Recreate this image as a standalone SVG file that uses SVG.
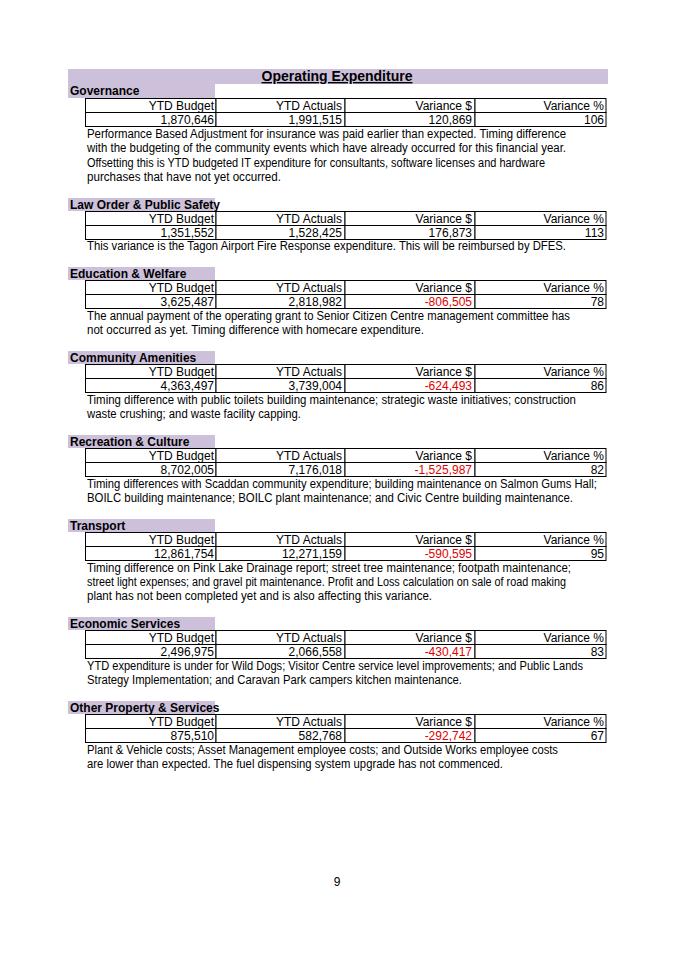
<svg xmlns="http://www.w3.org/2000/svg" width="675" height="954" viewBox="0 0 675 954">
<style>
text{font-family:"Liberation Sans",Arial,sans-serif;font-size:12px;fill:#000}
.lbl{font-weight:bold}
.r{text-anchor:end}
.neg{fill:#e00000}
.band{fill:#ccc0da}
.cell{fill:#fff;stroke:#000;stroke-width:1}
</style>
<rect width="675" height="954" fill="#fff"/>
<rect class="band" x="68" y="69" width="540" height="15"/>
<text x="337" y="81" text-anchor="middle" style="font-weight:bold;font-size:14px;text-decoration:underline">Operating Expenditure</text>
<defs>
<g id="tbl">
<rect class="cell" x="85.5" y="0.5" width="130.5" height="14"/>
<rect class="cell" x="216" y="0.5" width="129" height="14"/>
<rect class="cell" x="345" y="0.5" width="130" height="14"/>
<rect class="cell" x="475" y="0.5" width="131" height="14"/>
<rect class="cell" x="85.5" y="14.5" width="130.5" height="14"/>
<rect class="cell" x="216" y="14.5" width="129" height="14"/>
<rect class="cell" x="345" y="14.5" width="130" height="14"/>
<rect class="cell" x="475" y="14.5" width="131" height="14"/>
<text class="r" x="214" y="12">YTD Budget</text>
<text class="r" x="342" y="12">YTD Actuals</text>
<text class="r" x="472" y="12">Variance $</text>
<text class="r" x="604" y="12">Variance %</text>
</g>
</defs>
<g id="governance">
<rect class="band" x="68" y="84" width="147" height="14"/><text class="lbl" x="70" y="95">Governance</text>
<g transform="translate(0,98)"><use href="#tbl"/><text class="r" x="214" y="26">1,870,646</text><text class="r" x="342" y="26">1,991,515</text><text class="r" x="472" y="26">120,869</text><text class="r" x="604" y="26">106</text></g>
<text x="87" y="138" textLength="479" lengthAdjust="spacingAndGlyphs">Performance Based Adjustment for insurance was paid earlier than expected.  Timing difference</text>
<text x="87" y="152" textLength="479" lengthAdjust="spacingAndGlyphs">with the budgeting of the community events which have already occurred for this financial year.</text>
<text x="87" y="167" textLength="458" lengthAdjust="spacingAndGlyphs">Offsetting this is YTD budgeted IT expenditure for consultants, software licenses and hardware</text>
<text x="87" y="181" textLength="194" lengthAdjust="spacingAndGlyphs">purchases that have not yet occurred.</text>
</g>
<g id="law">
<rect class="band" x="68" y="198" width="147" height="13"/><text class="lbl" x="70" y="209">Law Order &amp; Public Safety</text>
<g transform="translate(0,211)"><use href="#tbl"/><text class="r" x="214" y="26">1,351,552</text><text class="r" x="342" y="26">1,528,425</text><text class="r" x="472" y="26">176,873</text><text class="r" x="604" y="26">113</text></g>
<text x="87" y="250" textLength="479" lengthAdjust="spacingAndGlyphs">This variance is the Tagon Airport Fire Response expenditure.  This will be reimbursed by DFES.</text>
</g>
<g id="education">
<rect class="band" x="68" y="267" width="147" height="13"/><text class="lbl" x="70" y="278">Education &amp; Welfare</text>
<g transform="translate(0,280)"><use href="#tbl"/><text class="r" x="214" y="26">3,625,487</text><text class="r" x="342" y="26">2,818,982</text><text class="r neg" x="472" y="26">-806,505</text><text class="r" x="604" y="26">78</text></g>
<text x="87" y="320" textLength="483" lengthAdjust="spacingAndGlyphs">The annual payment of the operating grant to Senior Citizen Centre management committee has</text>
<text x="87" y="334" textLength="337" lengthAdjust="spacingAndGlyphs">not occurred as yet.  Timing difference with homecare expenditure.</text>
</g>
<g id="community">
<rect class="band" x="68" y="351" width="147" height="13"/><text class="lbl" x="70" y="362">Community Amenities</text>
<g transform="translate(0,364)"><use href="#tbl"/><text class="r" x="214" y="26">4,363,497</text><text class="r" x="342" y="26">3,739,004</text><text class="r neg" x="472" y="26">-624,493</text><text class="r" x="604" y="26">86</text></g>
<text x="87" y="404" textLength="489" lengthAdjust="spacingAndGlyphs">Timing difference with public toilets building maintenance; strategic waste initiatives; construction</text>
<text x="87" y="418" textLength="214" lengthAdjust="spacingAndGlyphs">waste crushing; and waste facility capping.</text>
</g>
<g id="recreation">
<rect class="band" x="68" y="435" width="147" height="13"/><text class="lbl" x="70" y="446">Recreation &amp; Culture</text>
<g transform="translate(0,448)"><use href="#tbl"/><text class="r" x="214" y="26">8,702,005</text><text class="r" x="342" y="26">7,176,018</text><text class="r neg" x="472" y="26">-1,525,987</text><text class="r" x="604" y="26">82</text></g>
<text x="87" y="488" textLength="510" lengthAdjust="spacingAndGlyphs">Timing differences with Scaddan community expenditure; building maintenance on Salmon Gums Hall;</text>
<text x="87" y="502" textLength="486" lengthAdjust="spacingAndGlyphs">BOILC building maintenance; BOILC plant maintenance; and Civic Centre building maintenance.</text>
</g>
<g id="transport">
<rect class="band" x="68" y="519" width="147" height="13"/><text class="lbl" x="70" y="530">Transport</text>
<g transform="translate(0,532)"><use href="#tbl"/><text class="r" x="214" y="26">12,861,754</text><text class="r" x="342" y="26">12,271,159</text><text class="r neg" x="472" y="26">-590,595</text><text class="r" x="604" y="26">95</text></g>
<text x="87" y="572" textLength="484" lengthAdjust="spacingAndGlyphs">Timing difference on Pink Lake Drainage report; street tree maintenance; footpath maintenance;</text>
<text x="87" y="586" textLength="479" lengthAdjust="spacingAndGlyphs">street light expenses; and gravel pit maintenance.  Profit and Loss calculation on sale of road making</text>
<text x="87" y="600" textLength="345" lengthAdjust="spacingAndGlyphs">plant has not been completed yet and is also affecting this variance.</text>
</g>
<g id="economic">
<rect class="band" x="68" y="617" width="147" height="13"/><text class="lbl" x="70" y="628">Economic Services</text>
<g transform="translate(0,630)"><use href="#tbl"/><text class="r" x="214" y="26">2,496,975</text><text class="r" x="342" y="26">2,066,558</text><text class="r neg" x="472" y="26">-430,417</text><text class="r" x="604" y="26">83</text></g>
<text x="87" y="670" textLength="496" lengthAdjust="spacingAndGlyphs">YTD expenditure is under for Wild Dogs; Visitor Centre service level improvements; and Public Lands</text>
<text x="87" y="684" textLength="375" lengthAdjust="spacingAndGlyphs">Strategy Implementation; and Caravan Park campers kitchen maintenance.</text>
</g>
<g id="other">
<rect class="band" x="68" y="701" width="147" height="13"/><text class="lbl" x="70" y="712">Other Property &amp; Services</text>
<g transform="translate(0,714)"><use href="#tbl"/><text class="r" x="214" y="26">875,510</text><text class="r" x="342" y="26">582,768</text><text class="r neg" x="472" y="26">-292,742</text><text class="r" x="604" y="26">67</text></g>
<text x="87" y="754" textLength="471" lengthAdjust="spacingAndGlyphs">Plant &amp; Vehicle costs; Asset Management employee costs; and Outside Works employee costs</text>
<text x="87" y="768" textLength="416" lengthAdjust="spacingAndGlyphs">are lower than expected. The fuel dispensing system upgrade has not commenced.</text>
</g>
<text x="337" y="886" text-anchor="middle">9</text>
</svg>
